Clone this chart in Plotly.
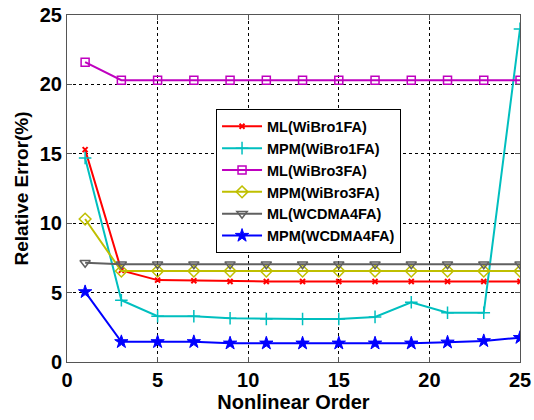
import plotly.graph_objects as go

orders = [1, 3, 5, 7, 9, 11, 13, 15, 17, 19, 21, 23, 25]
ml_wibro1 = [15.3, 6.6, 5.9, 5.85, 5.8, 5.8, 5.8, 5.8, 5.8, 5.8, 5.8, 5.8, 5.8]
mpm_wibro1 = [14.7, 4.45, 3.3, 3.3, 3.15, 3.1, 3.1, 3.1, 3.25, 4.3, 3.55, 3.55, 24.0]
ml_wibro3 = [21.6, 20.3, 20.3, 20.3, 20.3, 20.3, 20.3, 20.3, 20.3, 20.3, 20.3, 20.3, 20.3]
mpm_wibro3 = [10.3, 6.55, 6.55, 6.55, 6.55, 6.55, 6.55, 6.55, 6.55, 6.55, 6.55, 6.55, 6.55]
ml_wcdma4 = [7.15, 7.05, 7.05, 7.05, 7.05, 7.05, 7.05, 7.05, 7.05, 7.05, 7.05, 7.05, 7.05]
mpm_wcdma4 = [5.05, 1.45, 1.45, 1.45, 1.35, 1.35, 1.35, 1.35, 1.35, 1.35, 1.42, 1.52, 1.75]

series = [
    ("ML(WiBro1FA)", ml_wibro1, "#ff0000", "x-thin", 5, 2),
    ("MPM(WiBro1FA)", mpm_wibro1, "#00bfbf", "cross-thin", 9, 1.5),
    ("ML(WiBro3FA)", ml_wibro3, "#bf00bf", "square-open", 8, 1.5),
    ("MPM(WiBro3FA)", mpm_wibro3, "#bfbf00", "diamond-open", 9, 1.5),
    ("ML(WCDMA4FA)", ml_wcdma4, "#606060", "triangle-down-open", 9, 1.5),
    ("MPM(WCDMA4FA)", mpm_wcdma4, "#0000ff", "star", 10, 1),
]

fig = go.Figure()
for name, vals, color, sym, size, mlw in series:
    fig.add_trace(go.Scatter(
        x=orders, y=vals, name=name, mode="lines+markers",
        line=dict(color=color, width=2),
        marker=dict(symbol=sym, size=size, color=color,
                    line=dict(color=color, width=mlw)),
    ))

axis_common = dict(
    showline=True, mirror="ticks", linecolor="#555555", linewidth=1,
    ticks="inside", ticklen=5, tickcolor="#555555",
    showgrid=True, gridcolor="black", gridwidth=1, griddash="3px,3px",
    zeroline=False, automargin=False,
    tickfont=dict(family="Liberation Sans", size=20, color="black", weight="bold"),
    title_font=dict(family="Liberation Sans", size=20, color="black", weight="bold"),
)

fig.update_xaxes(range=[0, 25], dtick=5, title_text="Nonlinear Order",
                 title_standoff=4, **axis_common)
fig.update_yaxes(range=[0, 25], dtick=5, title_text="Relative Error(%)",
                 title_standoff=6, title_font_size=19, **{k: v for k, v in axis_common.items() if k != "title_font"},
                 title_font_family="Liberation Sans", title_font_color="black", title_font_weight="bold")

fig.update_layout(
    width=534, height=420,
    margin=dict(l=67, r=14, t=15, b=58),
    paper_bgcolor="white", plot_bgcolor="white",
    showlegend=True,
    legend=dict(
        x=0.329, y=0.728, xanchor="left", yanchor="top",
        bgcolor="white", bordercolor="black", borderwidth=1,
        font=dict(family="Liberation Sans", size=14.5, color="black", weight="bold"),
        itemwidth=40, tracegroupgap=0,
    ),
)

fig.write_html("out.html")
